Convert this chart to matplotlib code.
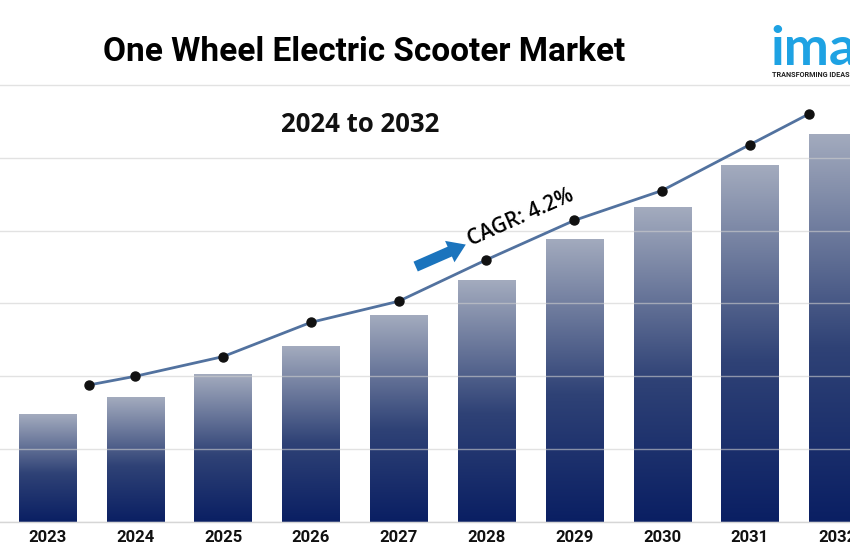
import numpy as np
import matplotlib
matplotlib.use("Agg")
import matplotlib.pyplot as plt
from matplotlib.colors import LinearSegmentedColormap

# ---- data (in gridline units) ----
years = [2023, 2024, 2025, 2026, 2027, 2028, 2029, 2030, 2031, 2032]
bar_values = [1.48, 1.71, 2.03, 2.41, 2.84, 3.32, 3.89, 4.32, 4.90, 5.33]
line_years = [2023.47, 2024, 2025, 2026, 2027, 2028, 2029, 2030, 2031, 2031.67]
line_values = [1.88, 2.00, 2.27, 2.74, 3.03, 3.60, 4.14, 4.55, 5.18, 5.60]
year_labels = [str(y) for y in years]
title = "One Wheel Electric Scooter Market"
subtitle = "2024 to 2032"
cagr_label = "CAGR: 4.2%"

COND = ['Liberation Sans Narrow', 'Roboto', 'DejaVu Sans']

fig = plt.figure(figsize=(8.5, 5.6), dpi=100)
ax = fig.add_axes([0.0, 0.0679, 1.0, 0.787])

cmap = LinearSegmentedColormap.from_list(
    "bar", [(0.0, "#0a1f63"), (0.45, "#2f4276"), (1.0, "#a3abbe")])

bars = ax.bar(years, bar_values, width=0.65, facecolor="none",
              edgecolor="none", zorder=2)
grad = np.linspace(0, 1, 256).reshape(-1, 1)
for b in bars:
    x0, y0 = b.get_xy()
    w, h = b.get_width(), b.get_height()
    im = ax.imshow(grad, extent=[x0, x0 + w, y0, y0 + h], origin="lower",
                   cmap=cmap, aspect="auto", zorder=2, interpolation="bilinear")
    im.set_clip_path(b)

ax.plot(line_years, line_values, color="#52729f", lw=2, zorder=4,
        marker="o", markersize=6.5, markerfacecolor="#111111",
        markeredgecolor="#111111")

ax.set_xlim(2022.46, 2032.14)
ax.set_ylim(0, 6.05)
ax.set_yticks(range(0, 7))
ax.yaxis.grid(True, color="#cfcfcf", lw=1, alpha=0.6)
ax.set_axisbelow(False)
ax.tick_params(axis="y", left=False, labelleft=False)
ax.set_xticks(years)
ax.set_xticklabels(year_labels, family=COND, fontweight="bold",
                   fontsize=12, color="#111111")
ax.tick_params(axis="x", length=0, pad=6)
for s in ["top", "left", "right"]:
    ax.spines[s].set_visible(False)
ax.spines["bottom"].set_color("#d6d6d6")
ax.spines["bottom"].set_linewidth(1)

# titles
fig.text(0.428, 0.907, title, ha="center", va="center", fontsize=24,
         fontweight="bold", family=COND, color="#000000")
fig.text(0.424, 0.777, subtitle, ha="center", va="center", fontsize=18.5,
         fontweight="bold", family=["Open Sans", "Roboto", "DejaVu Sans"],
         color="#111111")

# CAGR annotation
ax.annotate("", xy=(0.551, 0.632), xytext=(0.486, 0.577),
            xycoords="axes fraction", textcoords="axes fraction",
            arrowprops=dict(arrowstyle="simple,head_length=0.9,head_width=1.2,tail_width=0.55",
                            color="#1b74bd", lw=0, mutation_scale=14),
            zorder=5)
ax.text(0.613, 0.690, cagr_label, transform=ax.transAxes, rotation=24,
        rotation_mode="anchor", ha="center", va="center", fontsize=15,
        fontweight="semibold",
        family=["Open Sans", "Roboto", "DejaVu Sans"], color="#000000",
        zorder=5)

# logo
fig.text(0.906, 0.884, "ima", ha="left", va="baseline", fontsize=39,
         fontweight="bold", family=["Lato", "Roboto", "DejaVu Sans"],
         color="#1ea2e3")
fig.text(0.908, 0.866, "TRANSFORMING IDEAS", ha="left", va="center",
         fontsize=5.2, fontweight="bold", family=COND, color="#222222")

fig.savefig("out.png", dpi=100)
